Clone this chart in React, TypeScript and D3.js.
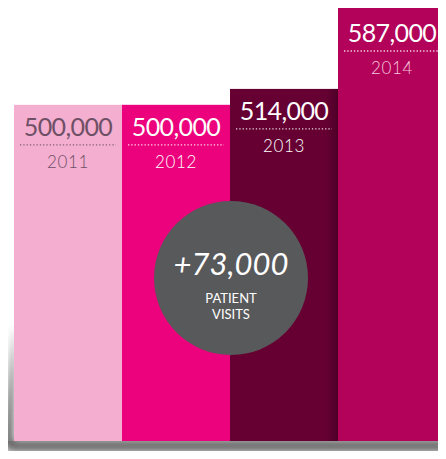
import React from 'react';
import * as d3 from 'd3';

const years = ['2011', '2012', '2013', '2014'];
const visits = [500000, 500000, 514000, 587000];
const barColors = ['#f4aecf', '#ec027c', '#660033', '#b2025a'];
const valueColors = ['#6e5066', '#ffffff', '#ffffff', '#ffffff'];
const yearColors = ['#6e5066', '#ffffff', '#ffffff', '#f6c6dc'];
const increase = '+73,000';
const caption = ['PATIENT', 'VISITS'];

const W = 446;
const H = 459;
const base = 441;

const App = () => {
  const x = d3.scaleBand<string>().domain(years).range([14, W]).padding(0);
  const y = d3.scaleLinear().domain([204000, 587000]).range([base, 6]);
  const fmt = d3.format(',');
  const font = 'Lato, "Noto Sans", sans-serif';

  return (
    <div style={{ margin: -8, width: W, height: H, overflow: 'hidden', background: '#fff' }}>
      <svg width={W} height={H} style={{ display: 'block' }}>
        <defs>
          <filter id="blur" x="-30%" y="-30%" width="160%" height="160%">
            <feGaussianBlur stdDeviation="3.5" />
          </filter>
          <linearGradient id="edge" x1="0" x2="1" y1="0" y2="0">
            <stop offset="0" stopColor="#000" stopOpacity="0" />
            <stop offset="1" stopColor="#000" stopOpacity="0.25" />
          </linearGradient>
          <linearGradient id="floor" x1="0" x2="0" y1="0" y2="1">
            <stop offset="0" stopColor="#c8c8c8" />
            <stop offset="1" stopColor="#f0f0f0" />
          </linearGradient>
        </defs>
        {/* page shadow */}
        <rect x={0} y={base} width={W} height={H - base} fill="url(#floor)" />
        <path
          d={`M14,325 L3,${base + 2} L10,${base + 10} L${W},${base + 10} L${W},${base} L14,${base} Z`}
          fill="#444"
          opacity={0.75}
          filter="url(#blur)"
        />
        {years.map((yr, i) => {
          const bx = x(yr)!;
          const bw = x.bandwidth();
          const top = y(visits[i]);
          const cx = bx + bw / 2;
          const extra = i === 3 ? 5 : 0;
          return (
            <g key={yr}>
              <rect x={bx} y={top} width={bw + (i === 3 ? 2 : 0.5)} height={base - top} fill={barColors[i]} />
              {i === 2 && <rect x={bx + bw - 12} y={top} width={12} height={base - top} fill="url(#edge)" />}
              <text
                x={cx}
                y={top + 31 + extra}
                textAnchor="middle"
                fontFamily={font}
                fontSize={25}
                fill={valueColors[i]}
                letterSpacing={-0.6}
              >
                {fmt(visits[i])}
              </text>
              <line
                x1={bx + 6}
                x2={bx + bw - 6}
                y1={top + 40 + extra}
                y2={top + 40 + extra}
                stroke={valueColors[i]}
                strokeWidth={1.3}
                strokeDasharray="1.3 2"
                opacity={0.85}
              />
              <text
                x={cx}
                y={top + 63 + extra}
                textAnchor="middle"
                fontFamily={font}
                fontWeight={300}
                fontSize={17}
                fill={yearColors[i]}
                letterSpacing={0.6}
              >
                {yr}
              </text>
            </g>
          );
        })}
        <circle cx={231} cy={278} r={77} fill="#58595b" />
        <text x={231} y={275} textAnchor="middle" fontFamily={font} fontStyle="italic" fontSize={31} fill="#fff">
          {increase}
        </text>
        {caption.map((c, i) => (
          <text key={c} x={231} y={303 + i * 16} textAnchor="middle" fontFamily={font} fontSize={13} fill="#fff">
            {c}
          </text>
        ))}
      </svg>
    </div>
  );
};

export default App;
